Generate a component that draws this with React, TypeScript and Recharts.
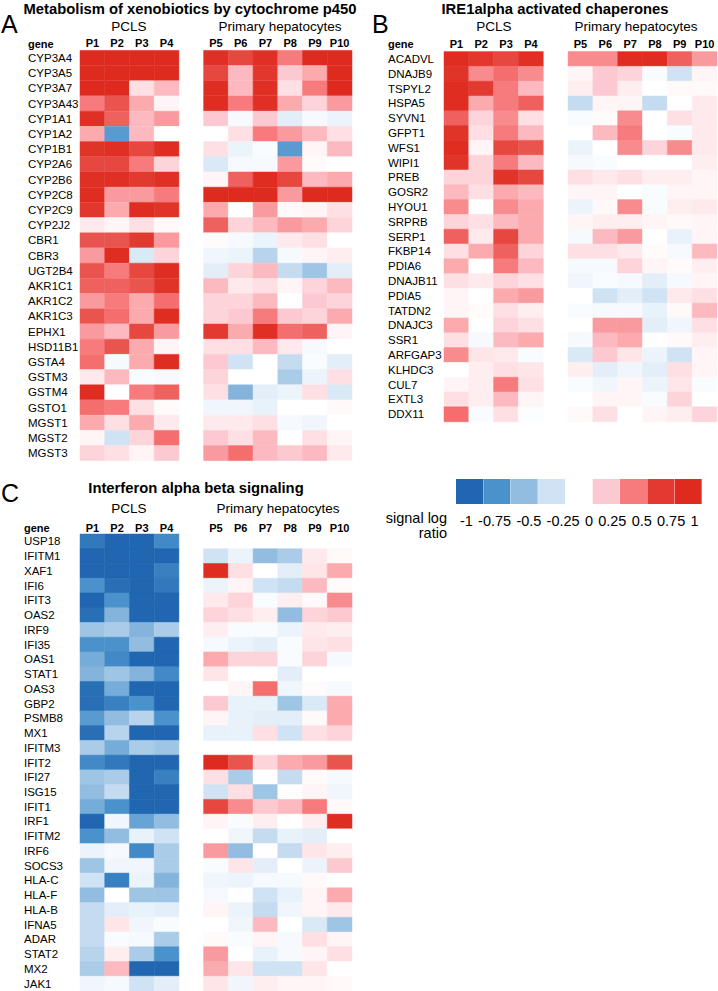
import { Bar, BarChart, Cell, XAxis, YAxis } from 'recharts';

const FONT = '"Liberation Sans", Arial, Helvetica, sans-serif';

const colLabels = ['P1', 'P2', 'P3', 'P4', 'P5', 'P6', 'P7', 'P8', 'P9', 'P10'];

// A: Metabolism of xenobiotics by cytochrome p450
const xenoGenes = [
  'CYP3A4', 'CYP3A5', 'CYP3A7', 'CYP3A43', 'CYP1A1', 'CYP1A2', 'CYP1B1', 'CYP2A6', 'CYP2B6',
  'CYP2C8', 'CYP2C9', 'CYP2J2', 'CBR1', 'CBR3', 'UGT2B4', 'AKR1C1', 'AKR1C2', 'AKR1C3',
  'EPHX1', 'HSD11B1', 'GSTA4', 'GSTM3', 'GSTM4', 'GSTO1', 'MGST1', 'MGST2', 'MGST3',
];
const xenoValues: (number | null)[][] = [
  [1, 1, 1, 1, 0.9, 0.7, 0.9, 0.5, 1, 1],
  [1, 1, 1, 1, 0.7, 0.3, 0.8, 0.25, 0.35, 1],
  [1, 1, 0.15, 0.3, 0.95, 0.3, 0.9, 0.15, 0.5, 1],
  [0.5, 0.65, 0.35, 0.05, 0.95, 0.5, 0.9, 0.35, 0.2, 0.4],
  [0.9, 0.6, 0.3, 0.4, 0.25, -0.05, 0.25, -0.15, -0.05, -0.1],
  [0.35, -0.7, 0.3, 0, 0, 0.15, 0.5, 0.4, 0.3, 0.15],
  [0.85, 0.9, 0.7, 0.95, 0.15, -0.1, -0.03, -0.7, 0.05, 0.3],
  [0.7, 0.7, 0.5, 0.2, -0.2, -0.05, -0.05, 0.4, 0.02, 0],
  [0.9, 0.9, 0.75, 0.9, 0.05, 0.6, 0.95, 0.7, 0.3, 0.35],
  [0.95, 0.4, 0.4, 0.5, 1, 1, 1, 0.4, 1, 1],
  [0.8, 0.35, 0.95, 0.85, 0.35, 0, 0.4, 0.03, 0.05, 0.15],
  [0.1, 0.05, 0.15, 0.03, 0.6, 0.2, 0.3, 0.4, 0.35, 0.2],
  [0.65, 0.65, 0.75, 0.4, 0.02, -0.05, -0.1, 0.1, 0.15, 0],
  [0.4, 0.95, -0.2, 0.2, -0.08, -0.1, -0.35, -0.05, 0.05, 0.08],
  [0.65, 0.5, 0.7, 0.95, -0.15, 0.2, 0.3, -0.3, -0.45, -0.15],
  [0.6, 0.6, 0.65, 0.85, 0.3, 0.1, 0.15, 0.05, 0.2, 0.3],
  [0.4, 0.5, 0.35, 0.55, 0.2, 0.2, 0.3, 0, 0.25, 0.2],
  [0.65, 0.55, 0.35, 0.95, 0.2, 0.25, 0.5, 0.25, 0.2, 0.35],
  [0.4, 0.3, 0.7, 0.4, 0.75, 0.35, 0.9, 0.55, 0.6, 0.05],
  [0.5, 0.65, 0.35, 0.05, 0.15, 0.15, 0.3, 0.1, -0.05, 0],
  [0.55, -0.05, 0.35, 0.95, 0.25, -0.25, 0, -0.3, -0.03, -0.15],
  [0.1, 0.3, -0.03, -0.05, 0.2, 0, 0, -0.4, -0.1, 0.15],
  [0.95, 0, 0.5, 0.6, 0.15, -0.55, -0.15, -0.1, 0.15, -0.2],
  [0.55, 0.5, 0.15, 0.02, -0.08, -0.08, -0.12, 0, 0, 0.03],
  [0.35, 0.15, 0.35, 0.1, 0.1, 0.1, 0.15, -0.05, -0.08, 0],
  [0.05, -0.25, 0.2, 0.55, 0.25, 0.15, 0.3, 0, 0.15, 0.05],
  [0.2, 0.15, 0.05, 0.25, 0.4, 0.55, 0.3, 0.25, 0.3, 0.1],
];

// B: IRE1alpha activated chaperones
const ireGenes = [
  'ACADVL', 'DNAJB9', 'TSPYL2', 'HSPA5', 'SYVN1', 'GFPT1', 'WFS1', 'WIPI1', 'PREB', 'GOSR2',
  'HYOU1', 'SRPRB', 'SERP1', 'FKBP14', 'PDIA6', 'DNAJB11', 'PDIA5', 'TATDN2', 'DNAJC3', 'SSR1',
  'ARFGAP3', 'KLHDC3', 'CUL7', 'EXTL3', 'DDX11',
];
const ireValues: (number | null)[][] = [
  [0.95, 0.8, 0.7, 0.9, 0.45, 0.45, 0.95, 0.95, 0.6, 0.4],
  [0.85, 0.45, 0.55, 0.45, 0.05, 0.25, 0.2, -0.03, -0.25, 0.05],
  [0.95, 0.75, 0.5, 0.3, 0.08, 0.25, 0.08, 0, 0.03, 0.03],
  [0.95, 0.35, 0.5, 0.6, -0.3, 0.05, 0.05, -0.3, 0, 0.1],
  [0.6, 0.2, 0.45, 0.15, -0.03, 0.02, 0.45, 0, 0.15, 0.1],
  [0.85, 0.15, 0.5, 0.3, 0, 0.3, 0.5, 0, -0.03, 0.1],
  [0.95, 0.05, 0.7, 0.65, -0.1, 0, 0.45, 0.2, 0.45, 0.1],
  [0.85, 0.2, 0.5, 0.3, -0.05, -0.03, 0, 0, 0, 0.08],
  [0.2, 0.2, 0.85, 0.7, 0.15, 0.1, 0.15, 0.08, 0.08, 0.05],
  [0.3, 0.15, 0.35, 0.3, 0.05, 0.05, 0, -0.03, 0.05, 0.05],
  [0.45, 0, 0.45, 0.35, -0.1, 0.03, 0.45, -0.03, 0.08, 0.1],
  [0.2, 0.15, 0.3, 0.35, 0.05, 0.08, 0.08, 0.05, 0.03, 0.05],
  [0.6, 0.1, 0.7, 0.35, -0.05, 0.3, 0.4, 0, -0.12, 0.05],
  [0.15, 0.35, 0.6, 0.2, 0.15, 0.15, 0.1, 0.02, -0.05, 0.3],
  [0.35, 0, 0.5, 0.3, -0.05, -0.05, 0.2, 0.05, 0.02, 0.08],
  [0.15, 0.1, 0.2, 0.15, -0.08, -0.03, -0.05, -0.15, -0.05, 0.05],
  [0.05, 0, 0.35, 0.4, 0, -0.25, -0.15, -0.25, 0.1, 0.15],
  [0.05, 0.02, 0.15, 0.08, -0.03, -0.05, -0.05, -0.12, 0.03, 0.3],
  [0.35, 0, 0.2, 0.15, 0, 0.4, 0.4, -0.15, -0.08, 0.15],
  [0.15, -0.05, 0.3, 0.35, -0.05, 0.3, 0.35, 0, 0.03, 0.08],
  [0.45, 0.12, 0.1, -0.03, -0.2, 0.25, 0.12, -0.1, -0.25, 0.05],
  [0, 0.08, 0.15, 0.12, 0.08, -0.15, -0.08, -0.15, 0.15, 0.05],
  [0.05, 0.08, 0.5, 0.15, -0.03, -0.08, 0.05, -0.1, 0.12, -0.03],
  [0.15, 0.08, 0.3, 0.05, 0, 0.05, 0.05, -0.03, 0.2, 0],
  [0.55, -0.03, 0.15, -0.02, 0.03, 0.15, 0, 0.05, 0.08, 0.2],
];

// C: Interferon alpha beta signaling
const ifnGenes = [
  'USP18', 'IFITM1', 'XAF1', 'IFI6', 'IFIT3', 'OAS2', 'IRF9', 'IFI35', 'OAS1', 'STAT1', 'OAS3',
  'GBP2', 'PSMB8', 'MX1', 'IFITM3', 'IFIT2', 'IFI27', 'ISG15', 'IFIT1', 'IRF1', 'IFITM2', 'IRF6',
  'SOCS3', 'HLA-C', 'HLA-F', 'HLA-B', 'IFNA5', 'ADAR', 'STAT2', 'MX2', 'JAK1',
];
const ifnValues: (number | null)[][] = [
  [-0.9, -1, -1, -0.8, null, null, null, null, null, null],
  [-1, -1, -1, -1, -0.25, -0.1, -0.5, -0.4, 0.1, 0.03],
  [-1, -1, -1, -0.85, 0.95, 0.15, 0, -0.15, 0.12, 0.35],
  [-0.75, -0.95, -1, -0.9, -0.1, 0.05, -0.25, -0.3, 0.3, 0.02],
  [-1, -0.75, -1, -1, 0.1, 0.2, -0.03, 0.08, 0.03, 0.45],
  [-0.95, -0.55, -1, -1, 0.2, 0.15, 0.08, -0.5, 0.2, 0.25],
  [-0.45, -0.4, -0.55, -0.4, 0.08, -0.03, -0.03, -0.1, 0.1, 0.08],
  [-0.75, -0.75, -0.5, -1, -0.05, -0.1, -0.15, -0.03, 0.12, 0.15],
  [-0.6, -0.8, -1, -1, 0.35, 0.2, 0.2, -0.03, 0.2, -0.05],
  [-0.55, -0.45, -0.55, -0.8, 0.12, 0, 0, -0.15, 0, 0],
  [-0.95, -0.6, -1, -1, 0, 0.05, 0.55, -0.08, 0.02, -0.05],
  [-0.95, -0.85, -0.75, -1, 0.25, -0.12, -0.12, -0.45, -0.2, 0.35],
  [-0.7, -0.5, -0.35, -0.75, 0.05, -0.12, -0.15, -0.15, 0.03, 0.35],
  [-0.95, -0.35, -1, -1, -0.12, -0.12, 0.15, -0.25, 0.15, 0.2],
  [-0.4, -0.6, -0.4, -0.45, null, null, null, null, null, null],
  [-0.8, -0.9, -1, -1, 1, 0.65, 0.2, 0.35, 0.4, 0.65],
  [-0.45, -0.4, -1, -0.85, 0.15, -0.4, 0, -0.3, 0.02, -0.05],
  [-0.5, -0.3, -1, -1, -0.25, 0.15, -0.45, 0, 0.05, -0.08],
  [-0.6, -0.75, -1, -1, 0.7, 0.45, 0.25, 0.3, 0.5, 0.03],
  [-1, -0.08, -0.65, -0.5, 0.05, -0.03, 0.08, 0, 0.08, 0.95],
  [-0.75, -0.5, -0.12, -0.25, 0, -0.08, -0.3, -0.12, -0.15, 0],
  [-0.1, -0.05, -0.8, -0.4, 0.4, -0.5, 0, -0.3, 0.12, 0.08],
  [-0.45, -0.08, -0.08, -0.4, -0.03, 0.12, -0.15, 0, -0.1, 0.25],
  [-0.25, -0.85, -0.1, -0.55, -0.08, -0.1, -0.05, -0.05, 0.03, 0],
  [-0.5, 0, -0.45, -0.45, -0.05, 0, -0.25, -0.12, 0.05, 0.35],
  [-0.3, -0.15, -0.12, -0.15, 0.05, -0.1, -0.3, -0.08, 0.05, 0.1],
  [-0.3, 0.12, -0.08, -0.03, 0, -0.08, 0.3, 0, -0.2, -0.45],
  [-0.3, -0.03, -0.05, -0.4, 0.03, -0.03, 0.05, -0.05, 0.15, 0.05],
  [-0.35, 0.08, -0.4, -0.75, 0.4, 0, -0.12, -0.05, 0.05, 0.15],
  [-0.4, 0.3, -1, -1, 0.35, 0.12, -0.25, -0.25, 0.12, 0],
  [-0.08, -0.05, -0.25, -0.15, 0.12, -0.08, 0.08, 0.05, 0.05, 0.03],
];

const legendValues = [-1, -0.75, -0.5, -0.25, 0, 0.25, 0.5, 0.75, 1];
const legendLabels = ['-1', '-0.75', '-0.5', '-0.25', '0', '0.25', '0.5', '0.75', '1'];

// colour stops of the signal log ratio scale
const stops: [number, number[]][] = [
  [-1, [32, 102, 177]],
  [-0.75, [74, 146, 204]],
  [-0.5, [147, 189, 224]],
  [-0.25, [208, 227, 244]],
  [0, [255, 255, 255]],
  [0.25, [253, 201, 208]],
  [0.5, [247, 123, 124]],
  [0.75, [226, 58, 48]],
  [1, [223, 42, 31]],
];

function colorFor(v: number) {
  const x = Math.max(-1, Math.min(1, v));
  for (let i = 0; i < stops.length - 1; i++) {
    const [a, ca] = stops[i];
    const [b, cb] = stops[i + 1];
    if (x >= a && x <= b) {
      const t = (x - a) / (b - a);
      const c = ca.map((k, j) => Math.round(k + (cb[j] - k) * t));
      return `rgb(${c[0]},${c[1]},${c[2]})`;
    }
  }
  return '#fff';
}

// column slot on the x axis: 4 PCLS columns, one empty slot, 6 hepatocyte columns
const colSlot = colLabels.map((_, j) => (j < 4 ? j : j + 1));
const colTicks = colSlot.map((s) => s + 0.5);

interface HeatmapProps {
  genes: string[];
  values: (number | null)[][];
  width: number;
  height: number;
  margin: { top: number; right: number; bottom: number; left: number };
  axisHeight: number;
  yWidth: number;
  labelX: number;
  tickMargin: number;
}

function Heatmap({ genes, values, width, height, margin, axisHeight, yWidth, labelX, tickMargin }: HeatmapProps) {
  const rows = genes.map((gene) => {
    const row: Record<string, string | number> = { gene, gap: 1 };
    colLabels.forEach((_, j) => (row['c' + j] = 1));
    return row;
  });
  const keys = ['c0', 'c1', 'c2', 'c3', 'gap', 'c4', 'c5', 'c6', 'c7', 'c8', 'c9'];

  const ColTick = ({ x, y, payload }: any) => {
    const j = colTicks.indexOf(payload.value);
    return (
      <text x={x} y={y} textAnchor="middle" fontSize={11} fontWeight="bold" fontFamily={FONT} fill="#000">
        {colLabels[j]}
      </text>
    );
  };
  const GeneTick = ({ y, payload }: any) => (
    <text x={labelX} y={y} dy={4} textAnchor="start" fontSize={11.5} fontFamily={FONT} fill="#000">
      {payload.value}
    </text>
  );

  return (
    <BarChart width={width} height={height} data={rows} layout="vertical" margin={margin} barCategoryGap={0}>
      <XAxis
        type="number"
        orientation="top"
        domain={[0, 11]}
        ticks={colTicks}
        interval={0}
        height={axisHeight}
        axisLine={false}
        tickLine={false}
        tickSize={0}
        tickMargin={tickMargin}
        tick={<ColTick />}
      />
      <YAxis
        type="category"
        dataKey="gene"
        width={yWidth}
        interval={0}
        axisLine={false}
        tickLine={false}
        tick={<GeneTick />}
      />
      {keys.map((k) => {
        const j = k === 'gap' ? -1 : Number(k.slice(1));
        return (
          <Bar key={k} dataKey={k} stackId="cells" isAnimationActive={false}>
            {genes.map((g, i) => {
              const v = j < 0 ? null : values[i][j];
              const fill = v === null ? 'none' : colorFor(v);
              return <Cell key={g} fill={fill} stroke={fill} strokeWidth={0.5} />;
            })}
          </Bar>
        );
      })}
    </BarChart>
  );
}

function LegendBar() {
  const data = legendValues.map((v, i) => ({ label: legendLabels[i], w: 1 }));
  return (
    <BarChart width={246} height={25} data={data} margin={{ top: 0, right: 0, bottom: 0, left: 0 }} barCategoryGap={0}>
      <XAxis dataKey="label" hide />
      <YAxis hide domain={[0, 1]} />
      <Bar dataKey="w" isAnimationActive={false}>
        {legendValues.map((v) => (
          <Cell key={v} fill={colorFor(v)} />
        ))}
      </Bar>
    </BarChart>
  );
}

const t = { fontFamily: FONT, fill: '#000' };

export default function App() {
  return (
    <div style={{ position: 'absolute', left: 0, top: 0, width: 718, height: 991, background: '#fff', overflow: 'hidden' }}>
      <div style={{ position: 'absolute', left: 0, top: 0 }}>
        <Heatmap
          genes={xenoGenes}
          values={xenoValues}
          width={360}
          height={470}
          margin={{ top: 35, right: 8, bottom: 9.2, left: 0 }}
          axisHeight={15.4}
          yWidth={80}
          labelX={28}
          tickMargin={3}
        />
      </div>
      <div style={{ position: 'absolute', left: 360, top: 0 }}>
        <Heatmap
          genes={ireGenes}
          values={ireValues}
          width={358}
          height={430}
          margin={{ top: 35, right: 1, bottom: 8.4, left: 0 }}
          axisHeight={16.6}
          yWidth={84}
          labelX={28}
          tickMargin={4}
        />
      </div>
      <div style={{ position: 'absolute', left: 0, top: 500 }}>
        <Heatmap
          genes={ifnGenes}
          values={ifnValues}
          width={360}
          height={491}
          margin={{ top: 18, right: 8, bottom: 0, left: 0 }}
          axisHeight={16}
          yWidth={80}
          labelX={24}
          tickMargin={2.5}
        />
      </div>
      <div style={{ position: 'absolute', left: 456, top: 479 }}>
        <LegendBar />
      </div>
      <svg width={718} height={991} style={{ position: 'absolute', left: 0, top: 0, pointerEvents: 'none' }}>
        <text x={1} y={33} fontSize={25} {...t}>A</text>
        <text x={190} y={14} fontSize={14.8} fontWeight="bold" textAnchor="middle" {...t}>
          Metabolism of xenobiotics by cytochrome p450
        </text>
        <text x={129} y={31} fontSize={13.5} textAnchor="middle" {...t}>PCLS</text>
        <text x={280} y={31} fontSize={13.5} textAnchor="middle" {...t}>Primary hepatocytes</text>
        <text x={28} y={47.5} fontSize={11} fontWeight="bold" {...t}>gene</text>

        <text x={372} y={33} fontSize={25} {...t}>B</text>
        <text x={555} y={14} fontSize={14.8} fontWeight="bold" textAnchor="middle" {...t}>
          IRE1alpha activated chaperones
        </text>
        <text x={494} y={31} fontSize={13.5} textAnchor="middle" {...t}>PCLS</text>
        <text x={636} y={31} fontSize={13.5} textAnchor="middle" {...t}>Primary hepatocytes</text>
        <text x={388} y={47.5} fontSize={11} fontWeight="bold" {...t}>gene</text>

        <text x={1} y={502} fontSize={25} {...t}>C</text>
        <text x={196} y={493} fontSize={14.8} fontWeight="bold" textAnchor="middle" {...t}>
          Interferon alpha beta signaling
        </text>
        <text x={129} y={513} fontSize={13.5} textAnchor="middle" {...t}>PCLS</text>
        <text x={278} y={513} fontSize={13.5} textAnchor="middle" {...t}>Primary hepatocytes</text>
        <text x={24} y={531.5} fontSize={11} fontWeight="bold" {...t}>gene</text>

        <text x={447} y={523} fontSize={14.5} textAnchor="end" {...t}>signal log</text>
        <text x={447} y={538} fontSize={14.5} textAnchor="end" {...t}>ratio</text>
        <text x={460} y={526} fontSize={14.5} wordSpacing={1.2} xmlSpace="preserve" {...t}>
          {legendLabels.join(' ')}
        </text>
      </svg>
    </div>
  );
}
